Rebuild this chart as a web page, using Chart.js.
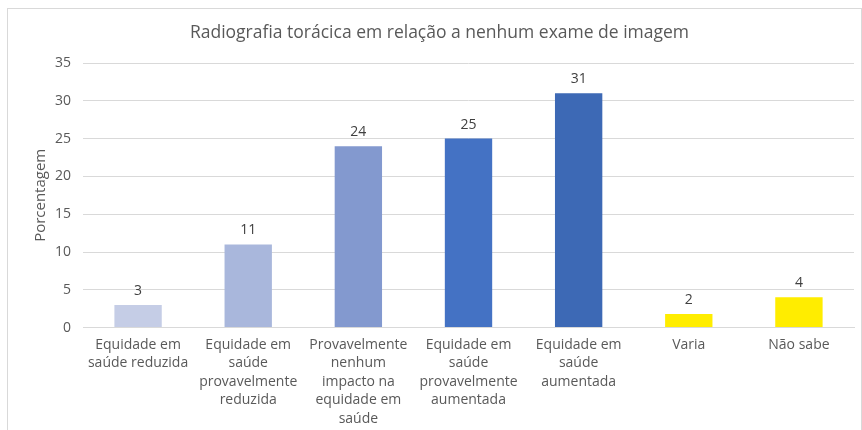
<!DOCTYPE html>
<html>
<head>
<meta charset="utf-8">
<script src="https://cdn.jsdelivr.net/npm/chart.js@4"></script>
<style>
  body { margin: 0; background: #fff; }
  #frame { position: absolute; left: 7px; top: 8px; width: 853px; height: 440px; border: 1px solid #d9d9d9; }
  #wrap { position: absolute; left: 0; top: 0; width: 862px; height: 430px; }
</style>
</head>
<body>
<div id="frame"></div>
<div id="wrap"><canvas id="myChart"></canvas></div>
<script>
// categories (multi-line labels as in the original)
const categories = [
	["Equidade em", "saúde reduzida"],
	["Equidade em", "saúde", "provavelmente", "reduzida"],
	["Provavelmente", "nenhum", "impacto na", "equidade em", "saúde"],
	["Equidade em", "saúde", "provavelmente", "aumentada"],
	["Equidade em", "saúde", "aumentada"],
	["Varia"],
	["Não sabe"],
];
// percentages
const values = [3, 11, 24, 25, 31, 1.8, 4];
const barColors = ["#c5cde6", "#a9b7dc", "#8399cf", "#4472c4", "#3d69b5", "#ffed00", "#ffed00"];

const textColor = "#595959";
const fontFamily = "'Open Sans', sans-serif";

// labels above the bars
const valueLabels = {
	id: "valueLabels",
	afterDatasetsDraw(chart) {
		const ctx = chart.ctx;
		const meta = chart.getDatasetMeta(0);
		ctx.save();
		ctx.fillStyle = "#404040";
		ctx.font = "14px " + fontFamily;
		ctx.textAlign = "center";
		ctx.textBaseline = "bottom";
		meta.data.forEach((bar, i) => {
			ctx.fillText(Math.round(values[i]), bar.x, bar.y - 7);
		});
		ctx.restore();
	},
};

new Chart(document.getElementById("myChart"), {
	type: "bar",
	data: {
		labels: categories,
		datasets: [
			{
				data: values,
				backgroundColor: barColors,
				borderWidth: 0,
				barPercentage: 0.43,
				categoryPercentage: 1,
			},
		],
	},
	options: {
		responsive: true,
		maintainAspectRatio: false,
		animation: false,
		layout: {
			padding: { left: 25, right: 8, top: 13, bottom: 2 },
		},
		scales: {
			x: {
				grid: { display: false },
				border: { color: "#d9d9d9" },
				ticks: {
					color: textColor,
					font: { family: fontFamily, size: 14, lineHeight: 1.32 },
					maxRotation: 0,
					autoSkip: false,
					padding: 0,
				},
			},
			y: {
				min: 0,
				max: 35,
				ticks: {
					stepSize: 5,
					color: textColor,
					font: { family: fontFamily, size: 14 },
					padding: 12,
				},
				grid: { color: "#d9d9d9", drawTicks: false },
				border: { display: false },
				title: {
					display: true,
					text: "Porcentagem",
					color: textColor,
					font: { family: fontFamily, size: 15 },
					padding: { top: 7, bottom: -7 },
				},
			},
		},
		plugins: {
			title: {
				display: true,
				text: "Radiografia torácica em relação a nenhum exame de imagem",
				color: textColor,
				font: { family: fontFamily, size: 17.5, weight: "normal" },
				padding: { top: 10, bottom: 19 },
			},
			legend: { display: false },
			tooltip: { enabled: false },
		},
	},
	plugins: [valueLabels],
});
</script>
</body>
</html>
